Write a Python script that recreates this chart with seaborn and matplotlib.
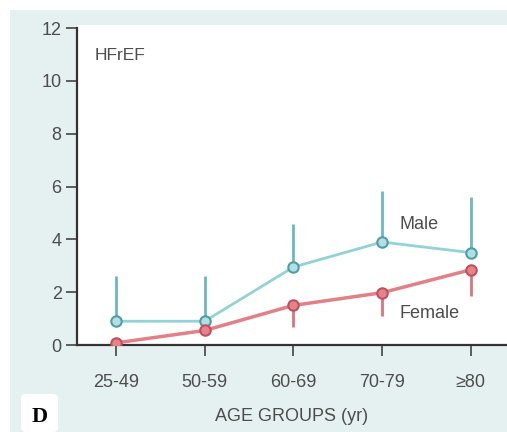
import numpy as np
import pandas as pd
import seaborn as sns
import matplotlib
matplotlib.use("Agg")
import matplotlib.pyplot as plt
from matplotlib.patches import Rectangle, FancyBboxPatch

# ---- data ----
age_groups = ["25-49", "50-59", "60-69", "70-79", "≥80"]
male_rate = [0.9, 0.9, 2.95, 3.9, 3.5]
male_upper = [2.6, 2.6, 4.6, 5.85, 5.6]
female_rate = [0.08, 0.55, 1.5, 1.98, 2.85]
female_lower = [0.08, 0.55, 0.7, 1.1, 1.85]
y_ticks = [0, 2, 4, 6, 8, 10, 12]

sns.set_theme(style="white")
plt.rcParams['font.family'] = ['Liberation Sans', 'DejaVu Sans']

fig = plt.figure(figsize=(5.07, 4.32), dpi=100)
fig.patch.set_facecolor("white")
W, H = 507, 432
# teal panel
fig.patches.append(Rectangle((10 / W, 0), 1 - 10 / W, (H - 10) / H,
                             transform=fig.transFigure, facecolor="#e4f1f0",
                             edgecolor="none", zorder=-10))

ax = fig.add_axes([77 / W, (H - 345) / H, (W - 77) / W, (345 - 25) / H])
ax.set_zorder(1)
ax.set_facecolor("white")

x = np.arange(len(age_groups))
df = pd.DataFrame({
    "pos": np.concatenate([x, x]),
    "rate": male_rate + female_rate,
    "sex": ["Male"] * len(x) + ["Female"] * len(x),
})

male_line = "#93d2d5"
male_edge = "#4e9ea6"
male_fill = "#b3dfe2"
fem_line = "#e27f87"
fem_edge = "#c24f5b"
fem_fill = "#e3848c"

# error bars (one-sided)
m = np.array(male_rate)
f = np.array(female_rate)
ax.errorbar(x, m, yerr=[np.zeros_like(m), np.array(male_upper) - m],
            fmt="none", ecolor="#6db7be", elinewidth=2, capsize=0, zorder=2)
ax.errorbar(x, f, yerr=[f - np.array(female_lower), np.zeros_like(f)],
            fmt="none", ecolor="#dc737d", elinewidth=2, capsize=0, zorder=2)

sns.lineplot(data=df[df.sex == "Male"], x="pos", y="rate", ax=ax,
             color=male_line, linewidth=2.0, marker="o", markersize=7.5,
             markerfacecolor=male_fill, markeredgecolor=male_edge,
             markeredgewidth=1.5, zorder=3, legend=False)
sns.lineplot(data=df[df.sex == "Female"], x="pos", y="rate", ax=ax,
             color=fem_line, linewidth=2.5, marker="o", markersize=7.5,
             markerfacecolor=fem_fill, markeredgecolor=fem_edge,
             markeredgewidth=1.5, zorder=4, legend=False)

ax.set_xlim(-0.44, 4.41)
ax.set_ylim(0, 12.12)
ax.set_xticks(x)
ax.set_xticklabels(age_groups)
ax.set_yticks(y_ticks)
ax.set_yticklabels([str(t) for t in y_ticks])

for s in ["top", "right"]:
    ax.spines[s].set_visible(False)
for s in ["left", "bottom"]:
    ax.spines[s].set_color("#333333")
    ax.spines[s].set_linewidth(1.6)
ax.spines["left"].set_bounds(0, 12)

ax.tick_params(axis="both", direction="out", length=8, width=1.2,
               color="#444444", labelcolor="#4d4d4d", labelsize=13,
               left=True, bottom=True)
ax.tick_params(axis="x", pad=13)
ax.tick_params(axis="y", pad=3)

ax.set_xlabel("AGE GROUPS (yr)", fontsize=13, color="#4d4d4d", labelpad=12)
ax.set_ylabel("")

ax.text(0.04, 0.905, "HFrEF", transform=ax.transAxes, fontsize=12.5,
        color="#4d4d4d", ha="left", va="center")
ax.text(3.2, 4.55, "Male", fontsize=13, color="#4d4d4d",
        ha="left", va="center")
ax.text(3.2, 1.2, "Female", fontsize=13, color="#4d4d4d",
        ha="left", va="center")

# panel label
fig.patches.append(FancyBboxPatch((21 / W, 0), 37 / W, 38 / H,
                                  boxstyle="round,pad=0,rounding_size=0.01",
                                  transform=fig.transFigure, facecolor="white",
                                  edgecolor="none", zorder=2))
fig.text(40 / W, (H - 417) / H, "D", fontsize=16, fontweight="bold",
         family="Liberation Serif", color="black", ha="center", va="center",
         zorder=3)

fig.savefig("out.png", dpi=100, facecolor=fig.get_facecolor())
